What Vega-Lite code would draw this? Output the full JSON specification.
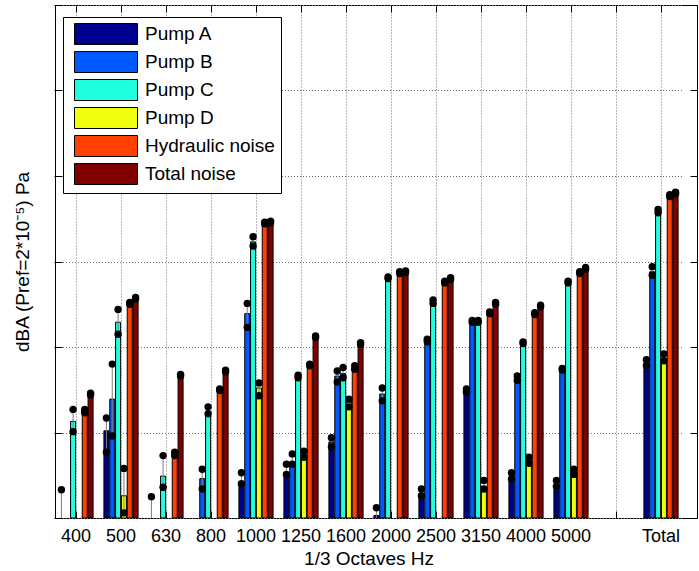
{
  "$schema": "https://vega.github.io/schema/vega-lite/v6.json",
  "width": 642,
  "height": 513,
  "autosize": {"type": "none"},
  "padding": {"left": 55, "top": 5, "right": 2, "bottom": 53},
  "background": "white",
  "config": {
    "font": "Liberation Sans",
    "view": {"stroke": "black", "strokeWidth": 1},
    "axis": {
      "domainColor": "black",
      "tickColor": "black",
      "gridColor": "#6f6f6f",
      "gridDash": [1, 2],
      "gridWidth": 1,
      "labelColor": "black",
      "titleColor": "black",
      "labelFont": "Liberation Sans",
      "titleFont": "Liberation Sans",
      "titleFontWeight": "normal"
    }
  },
  "data": {
    "values": [
      {"f": "400", "s": "Pump A", "v": null, "lo": -3, "hi": 3.3},
      {"f": "400", "s": "Pump C", "v": 11.3, "lo": 10.1, "hi": 12.7},
      {"f": "400", "s": "Hydraulic noise", "v": 12.5, "lo": 12.3, "hi": 12.7},
      {"f": "400", "s": "Total noise", "v": 14.5, "lo": 14.4, "hi": 14.6},
      {"f": "500", "s": "Pump A", "v": 10.2, "lo": 7.7, "hi": 11.7},
      {"f": "500", "s": "Pump B", "v": 13.9, "lo": 9.6, "hi": 18.0},
      {"f": "500", "s": "Pump C", "v": 22.9, "lo": 21.5, "hi": 24.4},
      {"f": "500", "s": "Pump D", "v": 2.6, "lo": 0.6, "hi": 5.8},
      {"f": "500", "s": "Hydraulic noise", "v": 25.1, "lo": 25.0, "hi": 25.2},
      {"f": "500", "s": "Total noise", "v": 25.7, "lo": 25.6, "hi": 25.8},
      {"f": "630", "s": "Pump A", "v": null, "lo": -2, "hi": 2.5},
      {"f": "630", "s": "Pump C", "v": 4.9, "lo": 3.6, "hi": 7.3},
      {"f": "630", "s": "Hydraulic noise", "v": 7.5, "lo": 7.3, "hi": 7.7},
      {"f": "630", "s": "Total noise", "v": 16.7, "lo": 16.6, "hi": 16.8},
      {"f": "800", "s": "Pump B", "v": 4.6, "lo": 3.4, "hi": 5.7},
      {"f": "800", "s": "Pump C", "v": 12.3, "lo": 12.2, "hi": 13.0},
      {"f": "800", "s": "Hydraulic noise", "v": 15.0, "lo": 14.9, "hi": 15.1},
      {"f": "800", "s": "Total noise", "v": 17.2, "lo": 17.1, "hi": 17.3},
      {"f": "1000", "s": "Pump A", "v": 4.1, "lo": 4.0, "hi": 5.3},
      {"f": "1000", "s": "Pump B", "v": 23.9, "lo": 22.3, "hi": 25.1},
      {"f": "1000", "s": "Pump C", "v": 32.3, "lo": 31.8, "hi": 32.9},
      {"f": "1000", "s": "Pump D", "v": 15.2, "lo": 14.3, "hi": 15.8},
      {"f": "1000", "s": "Hydraulic noise", "v": 34.5, "lo": 34.4, "hi": 34.6},
      {"f": "1000", "s": "Total noise", "v": 34.6, "lo": 34.5, "hi": 34.7},
      {"f": "1250", "s": "Pump A", "v": 5.3, "lo": 5.1, "hi": 6.3},
      {"f": "1250", "s": "Pump B", "v": 6.4, "lo": 6.3, "hi": 7.5},
      {"f": "1250", "s": "Pump C", "v": 16.5, "lo": 16.4, "hi": 16.7},
      {"f": "1250", "s": "Pump D", "v": 7.1, "lo": 7.1, "hi": 7.8},
      {"f": "1250", "s": "Hydraulic noise", "v": 17.9, "lo": 17.8, "hi": 18.0},
      {"f": "1250", "s": "Total noise", "v": 21.2, "lo": 21.1, "hi": 21.3},
      {"f": "1600", "s": "Pump A", "v": 8.9, "lo": 8.3, "hi": 9.4},
      {"f": "1600", "s": "Pump B", "v": 16.6, "lo": 15.9, "hi": 17.2},
      {"f": "1600", "s": "Pump C", "v": 16.9, "lo": 16.4, "hi": 17.6},
      {"f": "1600", "s": "Pump D", "v": 13.6, "lo": 13.0, "hi": 13.9},
      {"f": "1600", "s": "Hydraulic noise", "v": 17.5, "lo": 17.4, "hi": 17.8},
      {"f": "1600", "s": "Total noise", "v": 20.4, "lo": 20.3, "hi": 20.5},
      {"f": "2000", "s": "Pump A", "v": 0.3, "lo": -0.5, "hi": 1.2},
      {"f": "2000", "s": "Pump B", "v": 14.5, "lo": 13.7, "hi": 15.2},
      {"f": "2000", "s": "Pump C", "v": 28.1, "lo": 28.0, "hi": 28.2},
      {"f": "2000", "s": "Hydraulic noise", "v": 28.7, "lo": 28.6, "hi": 28.8},
      {"f": "2000", "s": "Total noise", "v": 28.8, "lo": 28.7, "hi": 28.9},
      {"f": "2500", "s": "Pump A", "v": 2.8, "lo": 2.6, "hi": 3.4},
      {"f": "2500", "s": "Pump B", "v": 20.7, "lo": 20.6, "hi": 20.9},
      {"f": "2500", "s": "Pump C", "v": 25.3, "lo": 25.1, "hi": 25.5},
      {"f": "2500", "s": "Hydraulic noise", "v": 27.6, "lo": 27.5, "hi": 27.7},
      {"f": "2500", "s": "Total noise", "v": 28.0, "lo": 27.9, "hi": 28.1},
      {"f": "3150", "s": "Pump A", "v": 14.9, "lo": 14.7, "hi": 15.1},
      {"f": "3150", "s": "Pump B", "v": 23.0, "lo": 22.9, "hi": 23.1},
      {"f": "3150", "s": "Pump C", "v": 23.0, "lo": 22.9, "hi": 23.1},
      {"f": "3150", "s": "Pump D", "v": 3.4, "lo": 3.4, "hi": 4.4},
      {"f": "3150", "s": "Hydraulic noise", "v": 24.0, "lo": 23.9, "hi": 24.1},
      {"f": "3150", "s": "Total noise", "v": 25.1, "lo": 25.0, "hi": 25.2},
      {"f": "4000", "s": "Pump A", "v": 4.7, "lo": 4.6, "hi": 5.3},
      {"f": "4000", "s": "Pump B", "v": 16.4, "lo": 16.1, "hi": 16.6},
      {"f": "4000", "s": "Pump C", "v": 20.5, "lo": 20.4, "hi": 20.6},
      {"f": "4000", "s": "Pump D", "v": 6.7, "lo": 6.4, "hi": 7.1},
      {"f": "4000", "s": "Hydraulic noise", "v": 23.9, "lo": 23.8, "hi": 24.0},
      {"f": "4000", "s": "Total noise", "v": 24.8, "lo": 24.7, "hi": 24.9},
      {"f": "5000", "s": "Pump A", "v": 3.9, "lo": 3.7, "hi": 4.4},
      {"f": "5000", "s": "Pump B", "v": 17.4, "lo": 17.3, "hi": 17.5},
      {"f": "5000", "s": "Pump C", "v": 27.6, "lo": 27.5, "hi": 27.7},
      {"f": "5000", "s": "Pump D", "v": 5.3, "lo": 5.1, "hi": 5.7},
      {"f": "5000", "s": "Hydraulic noise", "v": 28.7, "lo": 28.6, "hi": 28.8},
      {"f": "5000", "s": "Total noise", "v": 29.2, "lo": 29.1, "hi": 29.3},
      {"f": "Total", "s": "Pump A", "v": 18.1, "lo": 17.8, "hi": 18.5},
      {"f": "Total", "s": "Pump B", "v": 28.8, "lo": 28.4, "hi": 29.4},
      {"f": "Total", "s": "Pump C", "v": 35.8, "lo": 35.7, "hi": 36.1},
      {"f": "Total", "s": "Pump D", "v": 18.7, "lo": 18.4, "hi": 19.2},
      {"f": "Total", "s": "Hydraulic noise", "v": 37.7, "lo": 37.6, "hi": 37.8},
      {"f": "Total", "s": "Total noise", "v": 38.0, "lo": 37.9, "hi": 38.1}
    ]
  },
  "resolve": {"axis": {"x": "independent", "y": "independent"}},
  "layer": [
    {
      "mark": {"type": "bar", "stroke": "black", "strokeWidth": 1, "clip": true, "opacity": 1},
      "encoding": {
        "x": {
          "field": "f", "type": "nominal",
          "scale": {"domain": ["400", "500", "630", "800", "1000", "1250", "1600", "2000", "2500", "3150", "4000", "5000", " ", "Total"], "range": [-1.5, 628.5], "paddingInner": 0, "paddingOuter": 0},
          "axis": {"orient": "bottom", "title": "1/3 Octaves Hz", "titleFontSize": 19, "titlePadding": 4, "labelFontSize": 18, "labelAngle": 0, "labelPadding": 16, "tickSize": -7, "bandPosition": 0.5, "grid": true, "domain": false}
        },
        "xOffset": {
          "field": "s", "type": "nominal",
          "scale": {"domain": ["Pump A", "Pump B", "Pump C", "Pump D", "Hydraulic noise", "Total noise"], "paddingInner": 0.14, "paddingOuter": 0.93}
        },
        "y": {
          "field": "v", "type": "quantitative",
          "scale": {"domain": [0, 60], "nice": false},
          "axis": {"orient": "left", "title": "dBA (Pref=2*10⁻⁵) Pa", "titleFontSize": 19, "titlePadding": 22, "labels": false, "tickSize": -7, "values": [0, 10, 20, 30, 40, 50, 60], "grid": true}
        },
        "color": {
          "field": "s", "type": "nominal",
          "scale": {"domain": ["Pump A", "Pump B", "Pump C", "Pump D", "Hydraulic noise", "Total noise"], "range": ["#00008F", "#0058FF", "#20FFDF", "#EFFF10", "#FF4000", "#800000"]},
          "legend": {
            "orient": "none", "legendX": 8, "legendY": 12, "title": null,
            "symbolType": "M-3,-1H3V1H-3Z", "symbolSize": 441, "symbolOffset": 26,
            "symbolStrokeColor": "black", "symbolStrokeWidth": 1, "symbolOpacity": 1,
            "labelOffset": 28, "labelFontSize": 19, "labelFont": "Liberation Sans", "labelColor": "black",
            "rowPadding": 2, "padding": 6, "strokeColor": "black", "fillColor": "white"
          }
        }
      }
    },
    {
      "mark": {"type": "rule", "color": "#7f7f7f", "strokeWidth": 1, "clip": true},
      "encoding": {
        "x": {"field": "f", "type": "nominal", "axis": {"orient": "top", "labels": false, "title": null, "tickSize": -7, "bandPosition": 0.5, "grid": false, "domain": false}},
        "xOffset": {"field": "s", "type": "nominal"},
        "y": {"field": "lo", "type": "quantitative", "axis": {"orient": "right", "labels": false, "title": null, "tickSize": -7, "values": [0, 10, 20, 30, 40, 50, 60], "grid": false, "domain": false}},
        "y2": {"field": "hi"}
      }
    },
    {
      "transform": [{"fold": ["lo", "hi"], "as": ["k", "e"]}],
      "mark": {"type": "circle", "color": "black", "opacity": 1, "size": 55, "clip": true},
      "encoding": {
        "x": {"field": "f", "type": "nominal", "axis": null},
        "xOffset": {"field": "s", "type": "nominal"},
        "y": {"field": "e", "type": "quantitative", "axis": null}
      }
    }
  ]
}
